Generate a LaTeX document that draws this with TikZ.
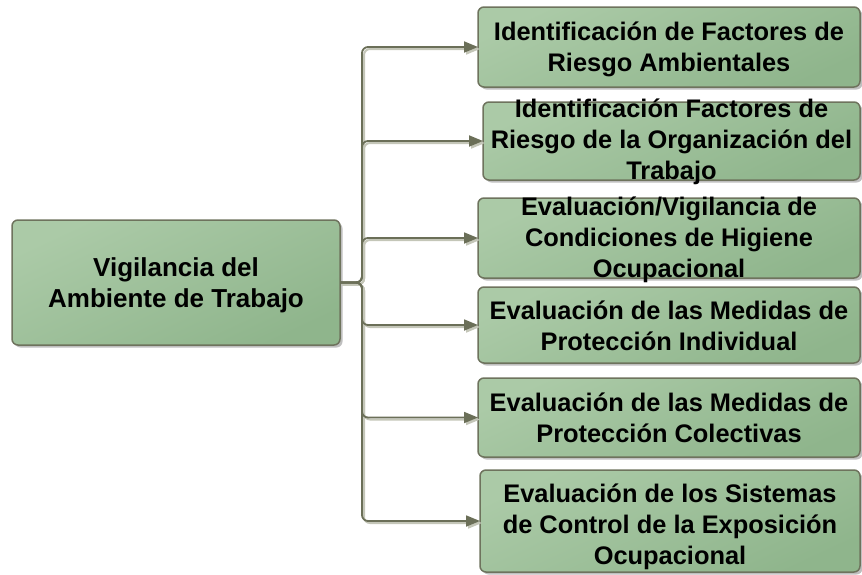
\documentclass[tikz,border=0pt]{standalone}
\usepackage{fontspec}
\setmainfont{Liberation Sans}
\usetikzlibrary{shadows,arrows.meta}
\definecolor{bord}{HTML}{6E735D}
\definecolor{gA}{HTML}{ABCAA7}
\definecolor{gB}{HTML}{8FB58C}
\definecolor{conn}{HTML}{6B6F58}
\definecolor{connsh}{HTML}{C4C6B8}
\begin{document}
\begin{tikzpicture}[x=1pt,y=-1pt,
  box/.style={draw=bord, line width=1.5pt, rounded corners=6pt, outer sep=0pt, inner sep=0pt,
    top color=gA, bottom color=gB, shading angle=25,
    drop shadow={shadow xshift=2.5pt, shadow yshift=-2.5pt, fill=black, opacity=0.25}},
  txt/.style={font=\fontsize{25.4}{31}\selectfont\bfseries, align=center, inner sep=0pt, text=black},
  bigtxt/.style={txt, font=\fontsize{26}{31}\selectfont\bfseries},
  conn/.style={draw=conn, line width=1.8pt, rounded corners=6pt, -{Triangle[length=14pt,width=11pt]}},
  connsh/.style={draw=connsh, line width=2pt, rounded corners=6pt, -{Triangle[length=14pt,width=11pt]}}]
\useasboundingbox (0,0) rectangle (862,574);
% boxes
\node[box, minimum width=328pt, minimum height=125pt] (L) at (176,282.5) {};
\node[box, minimum width=382pt, minimum height=80pt] (B1) at (669,47) {};
\node[box, minimum width=377pt, minimum height=78pt] (B2) at (671.5,141) {};
\node[box, minimum width=382pt, minimum height=80pt] (B3) at (669,238) {};
\node[box, minimum width=382pt, minimum height=76pt] (B4) at (669,325) {};
\node[box, minimum width=382pt, minimum height=79pt] (B5) at (669,417.5) {};
\node[box, minimum width=380pt, minimum height=102pt] (B6) at (670,521) {};
% texts
\node[bigtxt] (tL) at (176,285) {Vigilancia del\\Ambiente de Trabajo};
\node[txt] (t1) at (669,49.5) {Identificación de Factores de\\Riesgo Ambientales};
\node[txt] (t2) at (671.5,142) {Identificación Factores de\\Riesgo de la Organización del\\Trabajo};
\node[txt] (t3) at (669,240) {Evaluación/Vigilancia de\\Condiciones de Higiene\\Ocupacional};
\node[txt] (t4) at (669,325.5) {Evaluación de las Medidas de\\Protección Individual};
\node[txt] (t5) at (669,417.5) {Evaluación de las Medidas de\\Protección Colectivas};
\node[txt] (t6) at (670,527) {Evaluación de los Sistemas\\de Control de la Exposición\\Ocupacional};
% connectors
\coordinate (J) at (362,283);
\foreach \b in {B1,B2,B3,B4,B5,B6}{
  \draw[connsh, transform canvas={shift={(2pt,-2pt)}}] (L.east) -| (J |- \b.west) -- (\b.west);
}
\foreach \b in {B1,B2,B3,B4,B5,B6}{
  \draw[conn] (L.east) -| (J |- \b.west) -- (\b.west);
}
\end{tikzpicture}
\end{document}
